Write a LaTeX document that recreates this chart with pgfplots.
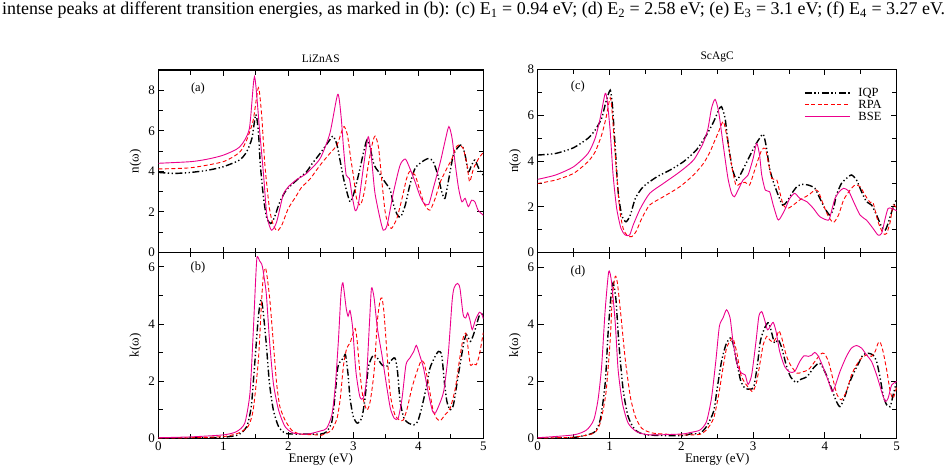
\documentclass[border=0pt]{standalone}
\usepackage{pgfplots}
\pgfplotsset{compat=1.18}
\usepackage{fontspec}
\setmainfont{Liberation Serif}
\tikzset{
  iqp/.style={black, line width=1.4pt, dash pattern=on 7pt off 2.5pt on 1.3pt off 2.5pt on 1.3pt off 2.5pt},
  rpa/.style={red, line width=0.9pt, dash pattern=on 4pt off 2.5pt},
  bse/.style={magenta, line width=0.9pt, solid},
}
\begin{document}
\begin{tikzpicture}
\useasboundingbox (0pt,0pt) rectangle (949pt,475pt);
\node[anchor=north west, inner sep=0pt] at (2pt,473pt) {\resizebox{943pt}{!}{\fontsize{15}{17}\selectfont intense peaks at different transition energies, as marked in (b): (c) E\textsubscript{1} = 0.94 eV; (d) E\textsubscript{2} = 2.58 eV; (e) E\textsubscript{3} = 3.1 eV; (f) E\textsubscript{4} = 3.27 eV.}};
\pgfplotsset{
  panel/.style={scale only axis, anchor=south west, xmin=0, xmax=5,
    xtick={0,1,2,3,4,5}, minor x tick num=1, minor y tick num=1,
    tick align=inside, major tick length=6pt, minor tick length=4.5pt,
    axis line style={line width=1.1pt}, every tick/.style={black, line width=0.9pt},
    tick label style={font=\fontsize{13}{15}\selectfont},
    /pgf/number format/assume math mode=true,
    label style={font=\fontsize{13}{15}\selectfont},
    every axis plot/.append style={smooth, tension=0.4},
    clip=true},
}
% (a)
\begin{axis}[panel, at={(158.3pt,222.5pt)}, width=325pt, height=182.5pt, ymin=0, ymax=9, ytick={0,2,4,6,8}, xticklabels={},
  ylabel={n(ω)}, title={LiZnAS}, title style={font=\fontsize{11.5}{13}\selectfont, yshift=-2pt}]
\node[font=\fontsize{12.5}{14}\selectfont] at (axis cs:0.61,8.1) {(a)};
\addplot[iqp] coordinates {(0,3.95)(0.25,3.9)(0.5,3.95)(0.75,4.05)(1,4.23)(1.25,4.56)(1.36,4.97)(1.44,5.63)(1.5,6.81)(1.54,5.96)(1.57,4.31)(1.62,2.67)(1.67,1.68)(1.73,1.43)(1.79,1.76)(1.87,2.5)(1.97,3.08)(2.13,3.57)(2.28,3.98)(2.36,4.35)(2.49,4.89)(2.62,5.47)(2.69,5.74)(2.75,5.3)(2.8,4.48)(2.85,3.65)(2.9,3.0)(2.95,2.5)(3.0,2.83)(3.08,3.82)(3.16,4.97)(3.21,5.55)(3.26,5.14)(3.32,4.31)(3.39,3.98)(3.45,3.65)(3.52,3.33)(3.57,3.08)(3.62,2.34)(3.68,1.84)(3.73,1.76)(3.8,2.34)(3.87,3.33)(3.95,4.15)(4.06,4.48)(4.16,4.64)(4.23,4.48)(4.3,3.82)(4.36,3.0)(4.41,2.67)(4.47,3.65)(4.54,4.81)(4.62,5.22)(4.67,5.3)(4.72,4.81)(4.77,3.98)(4.82,4.31)(4.87,4.56)(4.93,4.15)(5.0,3.82)};
\addplot[rpa] coordinates {(0,4.12)(0.5,4.18)(1,4.48)(1.25,4.94)(1.36,5.55)(1.46,6.53)(1.54,8.13)(1.59,6.78)(1.64,4.31)(1.71,2.17)(1.77,1.35)(1.83,1.07)(1.9,1.35)(2.0,2.17)(2.13,2.83)(2.2,3.2)(2.34,3.65)(2.49,4.31)(2.64,4.89)(2.75,5.3)(2.82,5.96)(2.86,6.21)(2.91,5.79)(2.96,4.64)(3.0,3.82)(3.05,2.67)(3.11,2.34)(3.17,3.0)(3.23,4.31)(3.3,5.47)(3.34,5.74)(3.39,5.14)(3.44,3.49)(3.49,2.0)(3.54,1.35)(3.59,1.19)(3.67,1.68)(3.75,2.67)(3.82,3.65)(3.87,4.0)(3.95,3.82)(4.03,3.0)(4.1,2.34)(4.18,2.09)(4.26,2.67)(4.34,3.49)(4.44,4.15)(4.52,4.64)(4.57,5.14)(4.62,5.3)(4.69,5.14)(4.75,4.31)(4.79,3.49)(4.85,4.15)(4.93,4.64)(5.0,4.94)};
\addplot[bse] coordinates {(0,4.4)(0.5,4.48)(0.75,4.6)(1,4.8)(1.25,5.2)(1.4,6.1)(1.48,8.67)(1.56,5.96)(1.62,3.8)(1.67,1.84)(1.74,1.1)(1.82,1.5)(1.92,2.83)(2.0,3.24)(2.13,3.6)(2.28,3.9)(2.49,4.64)(2.64,5.88)(2.76,7.8)(2.81,6.78)(2.85,5.14)(2.89,3.82)(2.94,3.65)(2.98,2.83)(3.03,2.06)(3.08,2.42)(3.16,4.31)(3.23,5.71)(3.28,4.64)(3.33,3.0)(3.4,1.84)(3.46,1.1)(3.52,1.35)(3.62,3.0)(3.72,4.31)(3.8,4.61)(3.87,4.15)(3.95,3.49)(4.03,2.75)(4.09,2.42)(4.16,2.37)(4.23,3.16)(4.34,4.48)(4.41,5.47)(4.47,6.21)(4.52,5.63)(4.57,4.31)(4.62,3.16)(4.67,2.5)(4.72,2.67)(4.77,2.26)(4.82,2.58)(4.87,2.5)(4.92,2.09)(5.0,1.84)};
\end{axis}
% (b)
\begin{axis}[panel, at={(158.3pt,36.7pt)}, width=325pt, height=185.8pt, ymin=0, ymax=6.5, ytick={0,2,4,6},
  ylabel={k(ω)}, xlabel={Energy (eV)}, xlabel style={yshift=4pt}]
\node[font=\fontsize{12.5}{14}\selectfont] at (axis cs:0.61,5.98) {(b)};
\addplot[iqp] coordinates {(0,0)(0.5,0.01)(1,0.04)(1.23,0.12)(1.36,0.41)(1.43,1.11)(1.48,2.51)(1.54,4.27)(1.58,4.85)(1.61,4.5)(1.66,3.33)(1.71,1.93)(1.77,0.99)(1.85,0.41)(1.95,0.18)(2.08,0.15)(2.3,0.15)(2.5,0.15)(2.59,0.23)(2.67,0.58)(2.72,1.52)(2.76,2.46)(2.8,2.69)(2.85,2.81)(2.88,2.92)(2.92,2.22)(2.95,1.4)(3.0,0.76)(3.06,0.53)(3.13,0.7)(3.18,1.4)(3.23,2.46)(3.28,2.81)(3.32,2.92)(3.37,2.81)(3.44,2.57)(3.51,2.51)(3.57,2.69)(3.64,2.81)(3.68,2.34)(3.72,1.29)(3.78,0.7)(3.85,0.53)(3.93,0.47)(3.99,0.58)(4.05,1.05)(4.12,1.75)(4.18,2.46)(4.26,2.87)(4.31,3.04)(4.36,2.92)(4.4,1.99)(4.44,1.29)(4.49,0.99)(4.54,1.17)(4.6,1.99)(4.65,2.69)(4.7,3.33)(4.74,3.63)(4.8,3.39)(4.84,3.57)(4.89,3.92)(4.94,4.3)(5.0,4.35)};
\addplot[rpa] coordinates {(0,0.01)(0.5,0.02)(1,0.06)(1.23,0.18)(1.38,0.41)(1.46,0.99)(1.54,2.75)(1.59,4.85)(1.62,5.79)(1.65,5.96)(1.68,5.56)(1.72,4.74)(1.77,3.33)(1.82,1.93)(1.87,1.11)(1.95,0.64)(2.05,0.29)(2.18,0.15)(2.44,0.12)(2.5,0.1)(2.59,0.18)(2.67,0.29)(2.75,0.7)(2.8,1.4)(2.85,2.57)(2.9,3.16)(2.95,3.33)(2.99,3.63)(3.03,3.84)(3.06,3.39)(3.1,2.34)(3.15,1.4)(3.21,0.99)(3.26,1.29)(3.32,2.34)(3.37,4.09)(3.41,4.8)(3.44,4.91)(3.47,4.44)(3.52,2.92)(3.57,1.52)(3.64,0.82)(3.71,0.64)(3.77,0.64)(3.83,1.05)(3.9,1.75)(3.98,2.34)(4.04,2.69)(4.09,2.63)(4.16,1.87)(4.22,1.05)(4.28,0.7)(4.34,0.62)(4.41,0.82)(4.49,1.05)(4.57,1.75)(4.63,2.69)(4.69,3.51)(4.73,3.68)(4.76,3.27)(4.8,2.57)(4.85,2.63)(4.89,2.57)(4.94,2.92)(5.0,3.7)};
\addplot[bse] coordinates {(0,0.02)(0.5,0.05)(1,0.12)(1.2,0.23)(1.33,0.53)(1.41,1.58)(1.46,3.68)(1.5,5.67)(1.52,6.35)(1.56,6.2)(1.6,6.02)(1.66,5.09)(1.71,3.45)(1.77,1.93)(1.85,0.99)(1.95,0.41)(2.08,0.18)(2.3,0.15)(2.5,0.26)(2.59,0.35)(2.67,0.82)(2.72,1.75)(2.77,3.39)(2.81,5.03)(2.84,5.44)(2.89,4.56)(2.92,4.27)(2.95,4.47)(2.99,3.86)(3.04,2.34)(3.1,1.46)(3.15,1.4)(3.2,1.99)(3.25,4.09)(3.28,5.26)(3.32,4.91)(3.37,3.86)(3.44,2.92)(3.51,1.87)(3.57,1.05)(3.63,0.7)(3.69,0.7)(3.75,1.4)(3.81,2.57)(3.87,2.81)(3.93,3.04)(3.97,3.25)(4.02,2.92)(4.08,2.46)(4.16,1.52)(4.22,0.94)(4.26,0.88)(4.31,1.11)(4.39,1.64)(4.46,2.92)(4.52,4.8)(4.55,5.26)(4.6,5.42)(4.64,5.26)(4.69,4.33)(4.73,4.21)(4.76,4.39)(4.8,4.09)(4.83,3.8)(4.88,4.15)(4.94,4.41)(4.98,4.33)(5.0,4.18)};
\end{axis}
% (c)
\begin{axis}[panel, at={(537.7pt,222.3pt)}, width=359pt, height=183.4pt, ymin=0, ymax=8, ytick={0,2,4,6,8}, xticklabels={},
  ylabel={n(ω)}, title={ScAgC}, title style={font=\fontsize{11.5}{13}\selectfont, yshift=-2pt},
  legend style={draw=none, fill=none, at={(0.967,0.914)}, anchor=north east, font=\fontsize{12.5}{14}\selectfont, row sep=-2pt, column sep=6pt, inner sep=1pt},
  legend cell align=left,
  legend image code/.code={\draw[#1, sharp plot] (0pt,0pt) -- (45pt,0pt);}]
\node[font=\fontsize{12.5}{14}\selectfont] at (axis cs:0.56,7.23) {(c)};
\addplot[iqp] coordinates {(0,4.26)(0.25,4.33)(0.5,4.58)(0.7,4.99)(0.8,5.35)(0.89,5.86)(0.95,6.58)(1.01,7.09)(1.04,6.44)(1.08,4.55)(1.12,2.66)(1.17,1.64)(1.23,1.35)(1.29,1.64)(1.36,2.37)(1.47,2.88)(1.66,3.31)(1.84,3.6)(2.03,3.97)(2.21,4.48)(2.35,5.13)(2.45,5.71)(2.52,6.22)(2.56,6.37)(2.61,5.86)(2.65,4.84)(2.71,3.68)(2.77,3.17)(2.82,3.39)(2.89,3.82)(2.96,4.26)(3.03,4.69)(3.09,4.99)(3.14,5.17)(3.18,4.69)(3.23,3.68)(3.28,3.1)(3.35,2.51)(3.41,2.08)(3.47,2.22)(3.54,2.59)(3.61,2.88)(3.68,2.98)(3.77,2.95)(3.86,2.81)(3.93,2.37)(4.0,1.93)(4.07,1.64)(4.12,1.93)(4.16,2.51)(4.23,3.02)(4.3,3.24)(4.37,3.39)(4.44,3.17)(4.51,2.66)(4.58,2.22)(4.65,2.08)(4.72,1.64)(4.79,1.13)(4.84,0.99)(4.88,1.28)(4.93,1.79)(4.98,2.22)(5.0,2.3)};
\addlegendentry{IQP}
\addplot[rpa] coordinates {(0,3.02)(0.25,3.17)(0.5,3.46)(0.7,3.97)(0.8,4.4)(0.89,5.13)(0.95,5.86)(1.01,6.76)(1.04,6.0)(1.09,3.82)(1.14,1.93)(1.19,1.06)(1.25,0.74)(1.31,0.7)(1.37,0.92)(1.45,1.5)(1.56,2.08)(1.75,2.44)(1.98,2.88)(2.17,3.39)(2.31,3.9)(2.4,4.4)(2.45,4.77)(2.52,5.28)(2.56,5.6)(2.59,5.71)(2.64,4.99)(2.7,3.82)(2.76,2.95)(2.82,3.02)(2.89,3.07)(2.95,2.95)(3.0,3.39)(3.06,3.97)(3.12,4.48)(3.17,4.55)(3.21,3.97)(3.26,3.24)(3.33,3.17)(3.37,2.66)(3.42,2.08)(3.48,1.93)(3.56,2.08)(3.65,2.3)(3.77,2.51)(3.86,2.73)(3.91,2.66)(3.98,2.08)(4.05,1.57)(4.12,1.32)(4.19,1.64)(4.26,2.3)(4.35,2.73)(4.42,2.95)(4.49,2.88)(4.56,2.51)(4.63,2.19)(4.67,2.19)(4.74,1.35)(4.81,0.84)(4.86,0.84)(4.91,1.35)(4.95,2.08)(5.0,1.93)};
\addlegendentry{RPA}
\addplot[bse] coordinates {(0,3.2)(0.25,3.39)(0.5,3.75)(0.7,4.33)(0.8,4.99)(0.87,5.86)(0.94,6.95)(0.97,6.58)(1.01,5.28)(1.05,3.39)(1.1,1.93)(1.16,1.06)(1.22,0.77)(1.28,0.77)(1.33,1.21)(1.43,1.93)(1.56,2.59)(1.75,3.02)(1.98,3.53)(2.17,4.04)(2.3,4.75)(2.37,5.4)(2.42,6.29)(2.47,6.69)(2.52,6.15)(2.59,4.55)(2.65,3.24)(2.7,2.59)(2.74,2.44)(2.79,2.73)(2.86,3.17)(2.93,3.39)(3.0,4.11)(3.05,4.77)(3.09,4.26)(3.12,3.39)(3.17,2.73)(3.23,2.66)(3.28,2.08)(3.34,1.47)(3.37,1.47)(3.44,1.86)(3.51,2.37)(3.58,2.59)(3.65,2.37)(3.75,2.22)(3.84,1.93)(3.93,1.57)(4.05,1.42)(4.09,1.79)(4.14,2.37)(4.2,2.66)(4.26,2.81)(4.33,2.69)(4.4,2.22)(4.49,1.64)(4.58,1.42)(4.67,1.06)(4.74,0.77)(4.79,0.84)(4.84,1.5)(4.88,1.93)(4.93,1.93)(5.0,1.83)};
\addlegendentry{BSE}
\end{axis}
% (d)
\begin{axis}[panel, at={(537.7pt,36.7pt)}, width=359pt, height=185.6pt, ymin=0, ymax=6.5, ytick={0,2,4,6},
  ylabel={k(ω)}, xlabel={Energy (eV)}, xlabel style={yshift=4pt}]
\node[font=\fontsize{12.5}{14}\selectfont] at (axis cs:0.56,5.83) {(d)};
\addplot[iqp] coordinates {(0,0)(0.5,0.03)(0.78,0.2)(0.87,0.64)(0.94,1.93)(0.98,3.68)(1.02,4.97)(1.05,5.44)(1.09,4.85)(1.13,3.33)(1.19,1.7)(1.26,0.76)(1.36,0.29)(1.52,0.12)(2.0,0.09)(2.12,0.15)(2.26,0.18)(2.35,0.41)(2.45,0.94)(2.5,1.75)(2.56,2.69)(2.62,3.27)(2.68,3.51)(2.72,3.33)(2.77,2.69)(2.83,1.99)(2.89,1.75)(2.96,1.72)(3.01,1.81)(3.06,2.57)(3.1,3.39)(3.15,3.8)(3.19,4.0)(3.22,4.04)(3.26,3.68)(3.3,3.33)(3.35,3.45)(3.4,3.16)(3.46,2.57)(3.52,2.16)(3.6,1.95)(3.65,2.05)(3.75,2.16)(3.84,2.46)(3.91,2.63)(3.95,2.57)(4.02,2.22)(4.09,1.75)(4.16,1.29)(4.21,1.11)(4.27,1.4)(4.33,1.87)(4.4,2.28)(4.47,2.63)(4.53,2.92)(4.6,2.98)(4.67,2.92)(4.72,2.69)(4.77,2.11)(4.81,1.52)(4.86,1.17)(4.91,1.11)(4.95,1.52)(5.0,1.99)};
\addplot[rpa] coordinates {(0,0.01)(0.5,0.04)(0.78,0.18)(0.87,0.53)(0.95,1.58)(1.01,3.45)(1.04,4.97)(1.08,5.67)(1.11,5.44)(1.16,4.27)(1.22,2.75)(1.29,1.46)(1.36,0.76)(1.45,0.35)(1.61,0.18)(2.0,0.12)(2.12,0.12)(2.26,0.14)(2.35,0.29)(2.45,0.7)(2.52,1.52)(2.58,2.46)(2.63,3.16)(2.69,3.45)(2.72,3.51)(2.77,3.04)(2.83,2.22)(2.89,1.93)(2.96,1.7)(3.0,1.64)(3.05,1.99)(3.1,2.69)(3.14,3.27)(3.19,3.57)(3.23,3.45)(3.28,3.37)(3.33,3.57)(3.36,3.77)(3.4,3.51)(3.46,2.92)(3.52,2.57)(3.61,2.28)(3.68,2.32)(3.77,2.4)(3.86,2.69)(3.94,2.95)(3.99,2.97)(4.05,2.69)(4.12,1.99)(4.17,1.52)(4.23,1.35)(4.3,1.64)(4.37,2.22)(4.44,2.57)(4.51,2.81)(4.58,2.92)(4.65,2.87)(4.7,3.04)(4.74,3.33)(4.77,3.37)(4.81,3.04)(4.86,2.4)(4.91,1.64)(4.95,1.4)(5.0,1.81)};
\addplot[bse] coordinates {(0,0.02)(0.5,0.12)(0.68,0.29)(0.78,0.64)(0.84,1.35)(0.89,2.51)(0.94,4.5)(0.99,5.85)(1.03,5.44)(1.08,4.04)(1.12,2.4)(1.18,1.23)(1.26,0.53)(1.38,0.23)(1.56,0.12)(2.0,0.15)(2.12,0.2)(2.26,0.29)(2.35,0.58)(2.42,1.4)(2.48,2.69)(2.53,3.92)(2.58,4.21)(2.63,4.5)(2.68,4.21)(2.72,3.39)(2.78,2.57)(2.84,2.28)(2.89,2.22)(2.93,1.89)(2.98,2.22)(3.04,3.39)(3.08,4.27)(3.12,4.44)(3.16,4.15)(3.2,3.8)(3.24,3.92)(3.28,4.06)(3.32,3.74)(3.37,3.04)(3.44,2.51)(3.51,2.32)(3.58,2.34)(3.65,2.69)(3.71,2.89)(3.77,2.87)(3.82,2.92)(3.86,3.01)(3.91,2.87)(3.98,2.46)(4.05,1.99)(4.1,1.64)(4.14,1.81)(4.21,2.34)(4.3,2.87)(4.37,3.16)(4.44,3.25)(4.51,3.16)(4.58,2.92)(4.65,2.69)(4.72,2.22)(4.79,1.64)(4.84,1.29)(4.88,1.4)(4.93,1.87)(5.0,1.99)};
\end{axis}
\end{tikzpicture}
\end{document}
